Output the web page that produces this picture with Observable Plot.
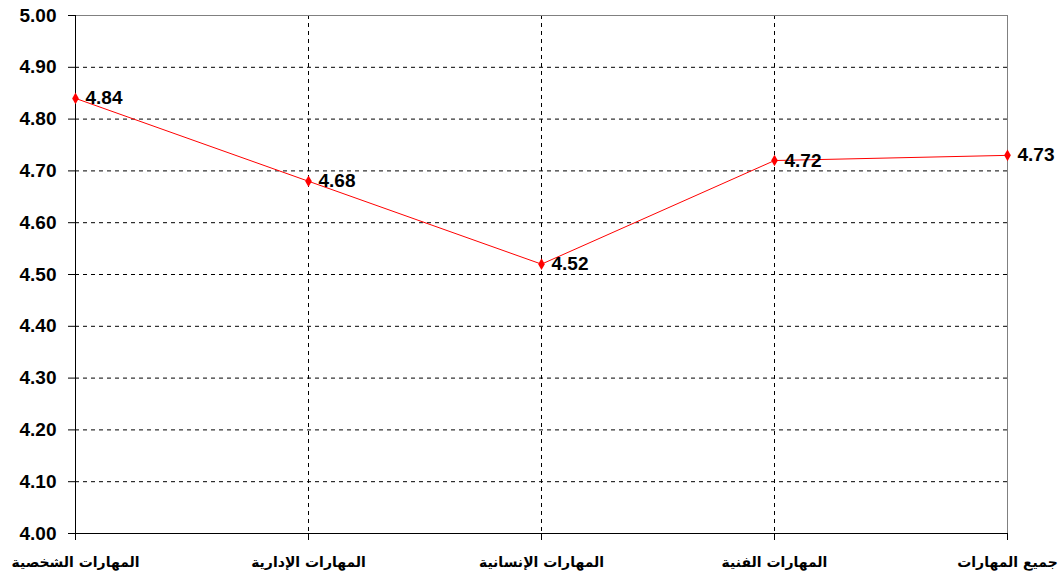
<!DOCTYPE html>
<html>
<head>
<meta charset="utf-8">
<script src="https://cdn.jsdelivr.net/npm/d3@7"></script>
<script src="https://cdn.jsdelivr.net/npm/@observablehq/plot@0.6"></script>
<style>
  html, body { margin: 0; padding: 0; background: #fff; }
  svg { display: block; }
</style>
</head>
<body>
<div id="chart"></div>
<script>
const categories = ["المهارات الشخصية", "المهارات الإدارية", "المهارات الإنسانية", "المهارات الفنية", "جميع المهارات"];
const values = [4.84, 4.68, 4.52, 4.72, 4.73];
const yTicks = [4.0, 4.1, 4.2, 4.3, 4.4, 4.5, 4.6, 4.7, 4.8, 4.9, 5.0];

const data = categories.map((c, i) => ({category: c, value: values[i]}));
const innerGridY = yTicks.slice(1, -1);
const innerGridX = categories.slice(1, -1);

const chart = Plot.plot({
  width: 1064,
  height: 583,
  marginLeft: 75,
  marginRight: 57,
  marginTop: 15,
  marginBottom: 50,
  style: {fontFamily: "'Liberation Sans', Arial, 'DejaVu Sans', sans-serif", background: "#fff"},
  x: {type: "point", domain: categories, padding: 0},
  y: {domain: [4, 5]},
  marks: [
    Plot.ruleY(innerGridY, {stroke: "#000", strokeDasharray: "4,4", strokeWidth: 1}),
    Plot.ruleX(innerGridX, {stroke: "#000", strokeDasharray: "4,4", strokeWidth: 1}),
    Plot.ruleY([5], {stroke: "#808080", strokeWidth: 1}),
    Plot.ruleX([categories[categories.length - 1]], {stroke: "#808080", strokeWidth: 1}),
    Plot.ruleY([4], {stroke: "#000", strokeWidth: 1}),
    Plot.ruleX([categories[0]], {stroke: "#000", strokeWidth: 1}),
    Plot.axisY({ticks: yTicks, tickFormat: d => d.toFixed(2), tickSize: 7, tickPadding: 12, fontSize: 19, fontWeight: "bold", label: null, stroke: "#000", color: "#000", style: {letterSpacing: "0.5px"}}),
    Plot.axisX({tickSize: 7, tickPadding: 17, fontSize: 14, fontWeight: "bold", label: null, fontFamily: "'DejaVu Sans', sans-serif", color: "#000"}),
    Plot.line(data, {x: "category", y: "value", stroke: "#ff0000", strokeWidth: 1}),
    Plot.dot(data, {x: "category", y: "value", symbol: "diamond", r: 3.5, fill: "#ff0000", stroke: "none"}),
    Plot.text(data, {x: "category", y: "value", text: d => d.value.toFixed(2), dx: 10, textAnchor: "start", fontSize: 19, fontWeight: "bold", fill: "#000", style: {letterSpacing: "0.5px"}})
  ]
});
document.getElementById("chart").appendChild(chart);
</script>
</body>
</html>
